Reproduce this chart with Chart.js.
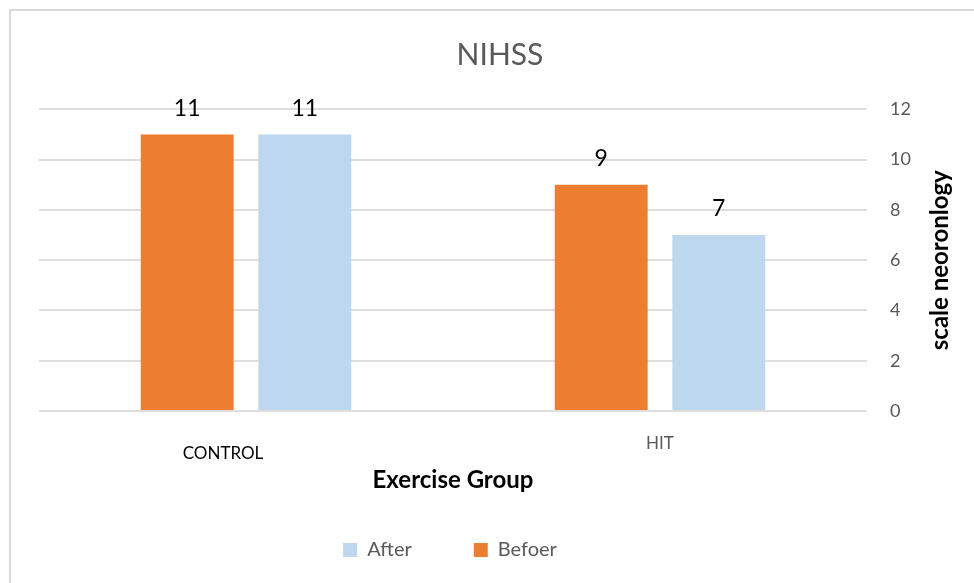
<!DOCTYPE html>
<html>
<head>
<meta charset="utf-8">
<script src="https://cdn.jsdelivr.net/npm/chart.js@4"></script>
<style>
  body { margin: 0; background: #fff; overflow: hidden; }
  .frame { position: absolute; left: 9px; top: 9px; width: 990px; height: 590px; border: 2px solid #d9d9d9; }
</style>
</head>
<body>
<div class="frame"><canvas id="myChart" width="980" height="580"></canvas></div>
<script>
const categories = ['CONTROL', 'HIT'];
const beforeValues = [11, 9];
const afterValues = [11, 7];
const yMin = 0;
const yMax = 12;
const yStep = 2;
const chartTitle = 'NIHSS';
const xTitle = 'Exercise Group';
const yTitle = 'scale neoronlogy';

const FONT = 'Lato';

// value labels above each bar
const barLabels = {
  id: 'barLabels',
  afterDatasetsDraw(chart) {
    const ctx = chart.ctx;
    ctx.save();
    ctx.font = `23px ${FONT}`;
    ctx.fillStyle = '#000';
    ctx.textAlign = 'center';
    ctx.textBaseline = 'middle';
    chart.data.datasets.forEach((ds, i) => {
      chart.getDatasetMeta(i).data.forEach((bar, j) => {
        ctx.fillText(ds.data[j], bar.x, bar.y - 26);
      });
    });
    ctx.restore();
  }
};

// right axis title, reading bottom to top
const rightTitle = {
  id: 'rightTitle',
  afterDraw(chart) {
    const y = chart.scales.y;
    const ctx = chart.ctx;
    ctx.save();
    ctx.translate(y.right - 51, (y.top + y.bottom) / 2);
    ctx.rotate(-Math.PI / 2);
    ctx.font = `bold 24px ${FONT}`;
    ctx.fillStyle = '#000';
    ctx.textAlign = 'center';
    ctx.textBaseline = 'middle';
    ctx.fillText(yTitle, 0, 0);
    ctx.restore();
  }
};

// put title, legend and the first x label where the reference has them
const placeBlocks = {
  id: 'placeBlocks',
  beforeDraw(chart) {
    const t = chart.titleBlock;
    t.left = 0; t.right = 978;
    const lg = chart.legend;
    lg.left = 0; lg.right = 878;
    lg.top = 539 - 10 - 62;
    const x = chart.scales.x;
    const items = x.getLabelItems();
    items[0].options.translation[0] = x.getPixelForTick(0) - 23;
  }
};

const ctx = document.getElementById('myChart').getContext('2d');
const chart = new Chart(ctx, {
  type: 'bar',
  data: {
    labels: categories,
    datasets: [
      { label: 'Befoer', data: beforeValues, backgroundColor: '#ED7D31' },
      { label: 'After', data: afterValues, backgroundColor: '#BDD7EE' }
    ]
  },
  options: {
    responsive: false,
    animation: false,
    categoryPercentage: 0.568,
    barPercentage: 0.79,
    layout: { padding: { left: 28, right: 0, top: 0, bottom: 21.5 } },
    plugins: {
      tooltip: { enabled: false },
      title: {
        display: true,
        text: chartTitle,
        color: '#595959',
        font: { family: FONT, size: 30, weight: 'normal' },
        padding: { top: 26, bottom: 36.4 }
      },
      legend: {
        position: 'bottom',
        reverse: true,
        maxHeight: 39,
        labels: {
          boxWidth: 14,
          boxHeight: 14,
          padding: 62,
          color: '#595959',
          font: { family: FONT, size: 20 }
        }
      }
    },
    scales: {
      x: {
        grid: { display: false },
        border: { display: false },
        ticks: {
          padding: 15,
          color: (c) => c.index === 0 ? '#000' : '#595959',
          font: (c) => ({ family: FONT, size: 17, lineHeight: c.index === 0 ? '40px' : '20px' })
        },
        title: {
          display: true,
          text: xTitle,
          color: '#000',
          font: { family: FONT, size: 24, weight: 'bold' },
          padding: { top: 0, bottom: 36 }
        },
        afterFit: (scale) => { scale.height = 119.5; }
      },
      y: {
        position: 'right',
        min: yMin,
        max: yMax,
        border: { display: false },
        grid: { color: '#dedede', lineWidth: 2, drawTicks: false },
        ticks: {
          stepSize: yStep,
          padding: 23,
          color: '#595959',
          font: { family: FONT, size: 18 }
        },
        afterFit: (scale) => { scale.width = 124; }
      }
    }
  },
  plugins: [barLabels, rightTitle, placeBlocks]
});
</script>
</body>
</html>
